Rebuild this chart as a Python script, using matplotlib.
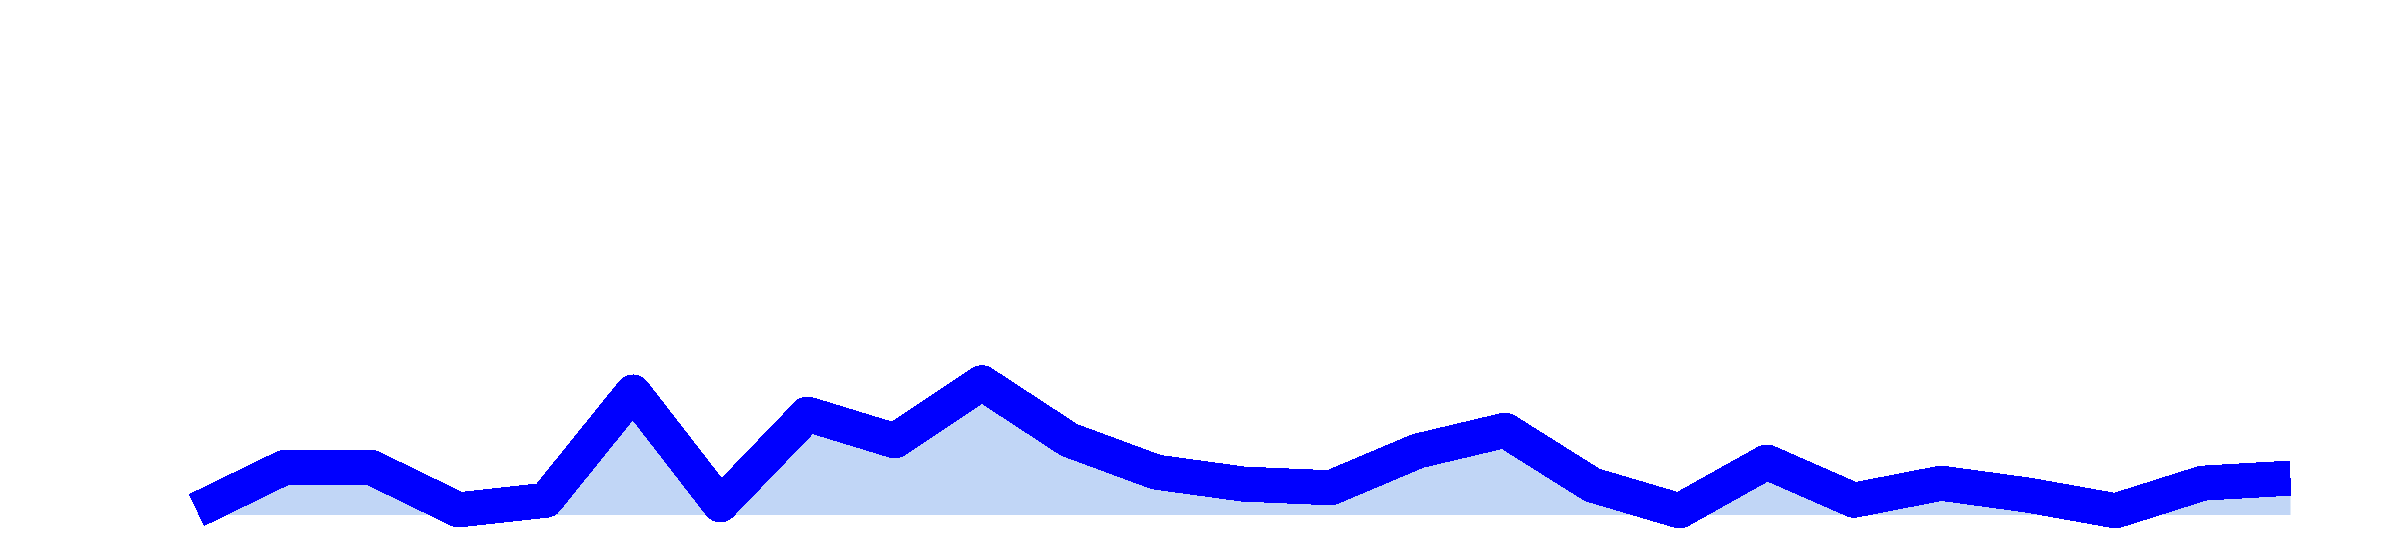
import matplotlib
matplotlib.use("Agg")
import matplotlib.pyplot as plt
import numpy as np

# Data
points = list(range(25))
values = [1.0, 10.2, 10.2, 1.0, 3.1, 26.6, 2.1, 21.8, 16.0, 28.6, 16.2, 9.2,
          6.6, 5.8, 13.8, 18.3, 6.4, 0.8, 11.4, 3.1, 6.8, 4.2, 0.8, 6.8, 7.9]

line_color = "#0000ff"
fill_color = "#c1d6f6"

fig = plt.figure(figsize=(24, 5.4), dpi=100)
ax = fig.add_axes([197 / 2400, (540 - 514.5) / 540, 2093 / 2400, 460.5 / 540])
ax.fill_between(points, values, 0, color=fill_color, linewidth=0,
                antialiased=False, zorder=1)
ax.plot(points, values, color=line_color, linewidth=24.5,
        solid_joinstyle="round", solid_capstyle="butt",
        antialiased=False, zorder=2, clip_on=False)
ax.set_xlim(0, len(points) - 1)
ax.set_ylim(0, 100)
ax.set_axis_off()

fig.savefig("out.png", dpi=100, facecolor="white")
